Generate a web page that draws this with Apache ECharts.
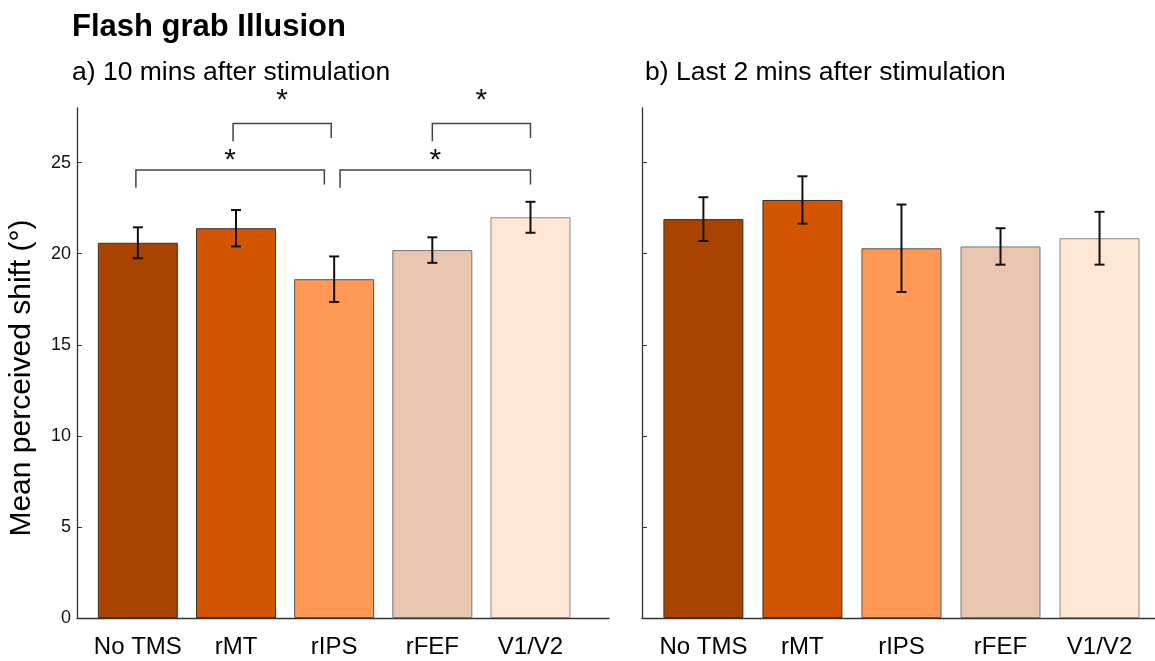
<!DOCTYPE html>
<html lang="en">
<head>
<meta charset="UTF-8">
<title>Flash grab Illusion</title>
<script src="https://cdn.jsdelivr.net/npm/echarts@6/dist/echarts.min.js"></script>
<style>
  html, body { margin: 0; padding: 0; background: #fff; }
  #main { width: 1155px; height: 661px; }
</style>
</head>
<body>
<div id="main"></div>
<script>
// categories (TMS conditions)
var categories = ['No TMS', 'rMT', 'rIPS', 'rFEF', 'V1/V2'];
var positions = [1, 2, 3, 4, 5];

// a) 10 mins after stimulation
var meanA = [20.6, 21.4, 18.6, 20.2, 22.0];
var errA = [0.85, 1.0, 1.25, 0.7, 0.85];

// b) last 2 mins after stimulation
var meanB = [21.9, 22.95, 20.3, 20.4, 20.85];
var errB = [1.2, 1.3, 2.4, 1.0, 1.45];

var yTicks = [0, 5, 10, 15, 20, 25];

// significance brackets in panel a: [from, to, bracket height, star height]
var brackets = [
  [0.98, 2.9, 24.6, 25.3],
  [3.06, 5.0, 24.6, 25.3],
  [1.97, 2.97, 27.15, 28.6],
  [4.0, 5.0, 27.15, 28.6]
];

var fills = ['#A84300', '#D45500', '#FF9955', '#E9C6AF', '#FFE6D5'];
var edges = ['#333', '#333', '#555', '#777', '#888'];
var font = 'Liberation Sans, Arial, Helvetica, sans-serif';

var chart = echarts.init(document.getElementById('main'));

function barData(means) {
  return means.map(function (m, i) {
    return {
      value: [positions[i], m],
      itemStyle: { color: fills[i], borderColor: edges[i], borderWidth: 1 }
    };
  });
}

function errData(means, errs) {
  return means.map(function (m, i) {
    return [positions[i], m - errs[i], m + errs[i]];
  });
}

function renderErr(params, api) {
  var x = api.value(0);
  var top = api.coord([x, api.value(2)]);
  var bot = api.coord([x, api.value(1)]);
  var st = { stroke: '#111', lineWidth: 2 };
  var w = 5;
  return {
    type: 'group',
    children: [
      { type: 'line', shape: { x1: top[0], y1: top[1], x2: bot[0], y2: bot[1] }, style: st },
      { type: 'line', shape: { x1: top[0] - w, y1: top[1], x2: top[0] + w, y2: top[1] }, style: st },
      { type: 'line', shape: { x1: bot[0] - w, y1: bot[1], x2: bot[0] + w, y2: bot[1] }, style: st }
    ]
  };
}

function renderBracket(params, api) {
  var x1 = api.value(0), x2 = api.value(1), y = api.value(2), ys = api.value(3);
  var a = api.coord([x1, y - 0.98]);
  var b = api.coord([x1, y]);
  var c = api.coord([x2, y]);
  var d = api.coord([x2, y - 0.8]);
  var s = api.coord([(x1 + x2) / 2, ys]);
  return {
    type: 'group',
    children: [
      { type: 'polyline', shape: { points: [a, b, c, d] }, style: { stroke: '#444', lineWidth: 1.5, fill: null } },
      { type: 'text', x: s[0], y: s[1] + 4, style: { text: '*', fill: '#111', font: '30px ' + font, align: 'center', verticalAlign: 'middle' } }
    ]
  };
}

function xAxisOpt(gridIndex, max) {
  return {
    type: 'value', gridIndex: gridIndex, min: 0.38, max: max,
    axisLine: { show: true, lineStyle: { color: '#333', width: 1.3 } },
    axisTick: { show: false },
    splitLine: { show: false },
    axisLabel: {
      customValues: positions,
      formatter: function (v) {
        var i = Math.round(v);
        return (Math.abs(v - i) < 1e-6 && i >= 1 && i <= 5) ? categories[i - 1] : '';
      },
      color: '#000', fontSize: 24, fontFamily: font, margin: 17
    }
  };
}

function yAxisOpt(gridIndex, showLabels) {
  var ax = {
    type: 'value', gridIndex: gridIndex, min: 0, max: 28, interval: 5,
    axisLine: { show: true, lineStyle: { color: '#333', width: 1.3 } },
    axisTick: { show: true, inside: true, length: 5, customValues: yTicks, lineStyle: { color: '#333' } },
    splitLine: { show: false },
    axisLabel: { show: showLabels, customValues: yTicks, color: '#111', fontSize: 18, fontFamily: font, margin: 6 }
  };
  if (showLabels) {
    ax.name = 'Mean perceived shift (°)';
    ax.nameLocation = 'middle';
    ax.nameGap = 40;
    ax.nameTextStyle = { color: '#000', fontSize: 30, fontFamily: font, padding: [0, 30, 0, 0] };
  }
  return ax;
}

var option = {
  backgroundColor: '#fff',
  animation: false,
  title: [
    { text: 'Flash grab Illusion', left: 67, top: 7, textStyle: { fontSize: 31, fontWeight: 'bold', color: '#000', fontFamily: font } },
    { text: 'a) 10 mins after stimulation', left: 67, top: 54, textStyle: { fontSize: 26.5, fontWeight: 'normal', color: '#000', fontFamily: font } },
    { text: 'b) Last 2 mins after stimulation', left: 640, top: 54, textStyle: { fontSize: 26.5, fontWeight: 'normal', color: '#000', fontFamily: font } }
  ],
  grid: [
    { left: 77, right: 546, top: 108, bottom: 43 },
    { left: 642, right: 0, top: 108, bottom: 43 }
  ],
  xAxis: [xAxisOpt(0, 5.8), xAxisOpt(1, 5.56)],
  yAxis: [yAxisOpt(0, true), yAxisOpt(1, false)],
  series: [
    { type: 'bar', xAxisIndex: 0, yAxisIndex: 0, barWidth: 80, data: barData(meanA), z: 2 },
    { type: 'bar', xAxisIndex: 1, yAxisIndex: 1, barWidth: 80, data: barData(meanB), z: 2 },
    { type: 'custom', xAxisIndex: 0, yAxisIndex: 0, renderItem: renderErr, data: errData(meanA, errA), z: 5 },
    { type: 'custom', xAxisIndex: 1, yAxisIndex: 1, renderItem: renderErr, data: errData(meanB, errB), z: 5 },
    { type: 'custom', xAxisIndex: 0, yAxisIndex: 0, renderItem: renderBracket, data: brackets, clip: false, z: 5 }
  ]
};

chart.setOption(option);
</script>
</body>
</html>
